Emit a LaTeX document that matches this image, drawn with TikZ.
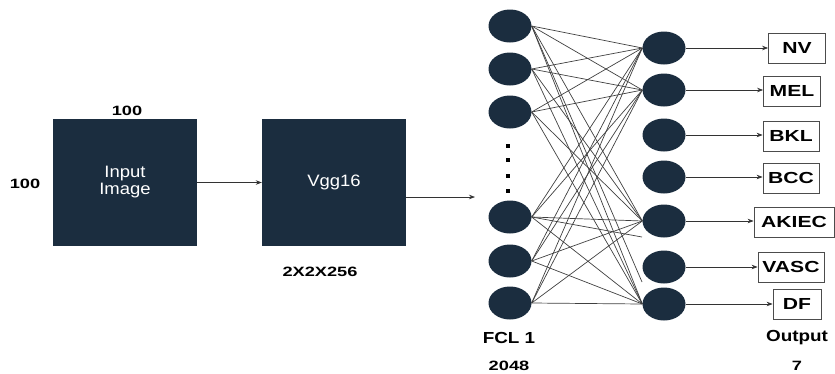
\documentclass[tikz,border=0pt]{standalone}
\usepackage{fontspec}
\setmainfont{Liberation Sans}
\newfontfamily\lblfont{Liberation Sans}[FakeStretch=1.35]
\newfontfamily\midfont{Liberation Sans}[FakeStretch=1.18]
\newfontfamily\boxfont{Liberation Sans}[FakeStretch=1.32]
\newfontfamily\blkfont{Liberation Sans}[FakeStretch=1.12]
\usetikzlibrary{shapes.geometric,arrows.meta}
\definecolor{navy}{RGB}{27,45,63}
\begin{document}
\begin{tikzpicture}[x=1pt,y=-1pt,
 blk/.style={fill=navy,draw=none,minimum width=144pt,minimum height=127pt,inner sep=0,text=white,font=\blkfont\fontsize{16.5}{17}\selectfont,align=center},
 neu/.style={ellipse,fill=navy,minimum width=43pt,minimum height=33pt,inner sep=0},
 outbox/.style={draw=black!70,line width=0.8pt,minimum height=30pt,inner sep=0,font=\boxfont\bfseries\fontsize{16}{18}\selectfont},
 lbl/.style={font=\lblfont\bfseries\fontsize{13.5}{15}\selectfont},
 biglbl/.style={font=\midfont\bfseries\fontsize{16}{18}\selectfont},
 wire/.style={draw=black!75,line width=0.7pt},
 arr/.style={-{Stealth[length=6pt,width=4.5pt]},line width=0.7pt,draw=black!80}]
\useasboundingbox (0,0) rectangle (835,373);
% blocks
\node[blk] (in) at (125,182.5) {Input\\Image};
\node[blk] (vgg) at (334,182.5) {Vgg16};
\node[lbl] (t100) at (127,111) {100};
\node[lbl] (l100) at (25,184) {100};
\node[lbl] (dim) at (320,272) {2X2X256};
\draw[arr] (in.east) -- (vgg.west);
\coordinate (vend) at (475,197);
\draw[arr] (vgg.east |- vend) -- (vend);
% left neurons
\foreach \n/\yy in {1/26,2/69,3/112,4/217,5/261,6/303}
  \node[neu] (L\n) at (510,\yy) {};
\foreach \yy in {146,160,176,191}
  \fill[black] (506,\yy-2) rectangle (510,\yy+2);
% right neurons
\foreach \n/\yy in {1/48,2/90,3/135,4/177,5/221,6/267,7/304}
  \node[neu] (R\n) at (664,\yy) {};
% wires
\foreach \i in {1,...,6}
  \foreach \j in {1,2,5,7}
    \draw[wire] (L\i.east) -- (R\j.west);
\coordinate (s1) at (642,237);
\coordinate (s2) at (642,282);
\draw[wire] (L4.east) -- (s1);
\draw[wire] (L1.east) -- (s2);
% outputs
\node[outbox,minimum width=57pt] (O1) at (797,48) {NV};
\node[outbox,minimum width=57pt] (O2) at (792,91) {MEL};
\node[outbox,minimum width=56pt] (O3) at (791,136) {BKL};
\node[outbox,minimum width=56pt] (O4) at (791,178) {BCC};
\node[outbox,minimum width=80pt] (O5) at (794,222) {AKIEC};
\node[outbox,minimum width=66pt] (O6) at (791,267) {VASC};
\node[outbox,minimum width=48pt] (O7) at (797,304) {DF};
\foreach \i in {1,...,7}
  \draw[arr] (R\i.east) -- (R\i.east -| O\i.west);
% labels
\node[biglbl] (fcl) at (509,338) {FCL 1};
\node[lbl] (n2048) at (509,366) {2048};
\node[biglbl] (outl) at (797,338) {Output};
\node[lbl] (n7) at (797,366) {7};
\end{tikzpicture}
\end{document}
